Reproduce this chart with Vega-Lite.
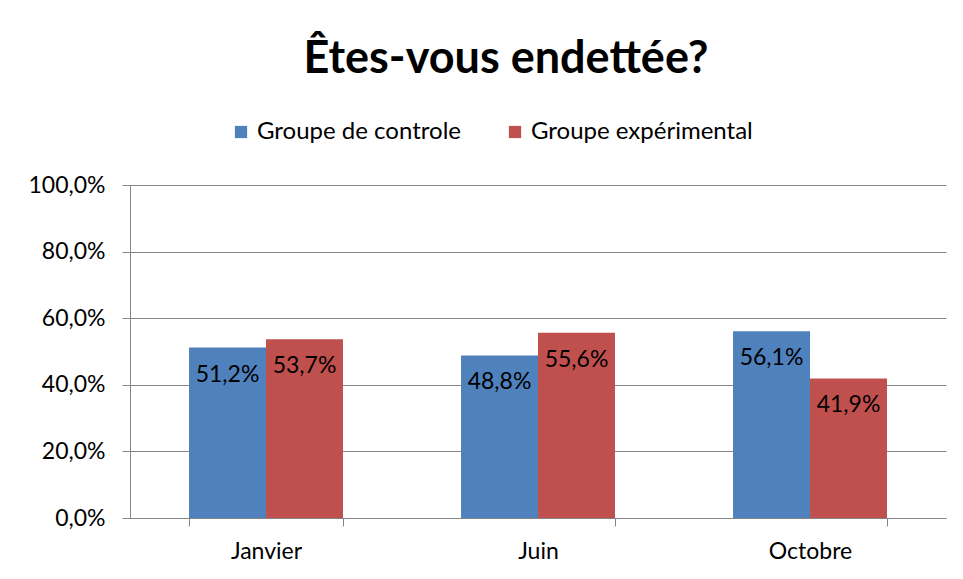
{
  "$schema": "https://vega.github.io/schema/vega-lite/v6.json",
  "autosize": {"type": "none"},
  "width": 816,
  "height": 333,
  "padding": {"left": 130, "top": 185, "right": 17, "bottom": 61},
  "background": "white",
  "title": {
    "text": "Êtes-vous endettée?",
    "font": "Lato",
    "fontSize": 45,
    "fontWeight": "bold",
    "color": "black",
    "anchor": "middle",
    "frame": "group",
    "dx": -32,
    "offset": 38
  },
  "data": {
    "values": [
      {"mois": "Janvier", "groupe": "Groupe de controle", "valeur": 0.512},
      {"mois": "Janvier", "groupe": "Groupe expérimental", "valeur": 0.537},
      {"mois": "Juin", "groupe": "Groupe de controle", "valeur": 0.488},
      {"mois": "Juin", "groupe": "Groupe expérimental", "valeur": 0.556},
      {"mois": "Octobre", "groupe": "Groupe de controle", "valeur": 0.561},
      {"mois": "Octobre", "groupe": "Groupe expérimental", "valeur": 0.419}
    ]
  },
  "encoding": {
    "x": {
      "field": "mois",
      "type": "nominal",
      "sort": ["Janvier", "Juin", "Octobre"],
      "scale": {"paddingInner": 0.434, "paddingOuter": 0.217},
      "axis": {
        "title": null,
        "labelAngle": 0,
        "labelFont": "Lato",
        "labelFontSize": 23,
        "labelColor": "black",
        "labelPadding": 14,
        "tickBand": "extent",
        "tickSize": 8,
        "tickColor": "#868686",
        "domainColor": "#868686",
        "grid": false
      }
    },
    "xOffset": {"field": "groupe", "type": "nominal", "scale": {"paddingInner": 0, "paddingOuter": 0}},
    "y": {
      "field": "valeur",
      "type": "quantitative",
      "scale": {"domain": [0, 1], "nice": false},
      "axis": {
        "title": null,
        "values": [0, 0.2, 0.4, 0.6, 0.8, 1],
        "format": ".1%",
        "labelFont": "Lato",
        "labelFontSize": 23,
        "labelColor": "black",
        "labelPadding": 17,
        "tickSize": 8,
        "tickColor": "#868686",
        "domainColor": "#868686",
        "gridColor": "#868686",
        "grid": true
      }
    }
  },
  "layer": [
    {
      "mark": {"type": "bar"},
      "encoding": {
        "color": {
          "field": "groupe",
          "type": "nominal",
          "scale": {"domain": ["Groupe de controle", "Groupe expérimental"], "range": ["#4F81BD", "#C0504D"]},
          "legend": {
            "title": null,
            "orient": "none",
            "legendX": 99,
            "legendY": -65,
            "direction": "horizontal",
            "symbolType": "square",
            "symbolSize": 150,
            "symbolStrokeWidth": 0,
            "labelFont": "Lato",
            "labelFontSize": 24,
            "labelColor": "black",
            "labelLimit": 0,
            "labelOffset": 4,
            "columnPadding": 42
          }
        }
      }
    },
    {
      "mark": {"type": "text", "baseline": "top", "align": "center", "dy": 16, "font": "Lato", "fontSize": 23, "color": "black"},
      "encoding": {
        "text": {"field": "valeur", "type": "quantitative", "format": ".1%"}
      }
    }
  ],
  "config": {
    "locale": {"number": {"decimal": ",", "thousands": " ", "grouping": [3], "currency": ["", " €"]}},
    "view": {"stroke": null}
  }
}
